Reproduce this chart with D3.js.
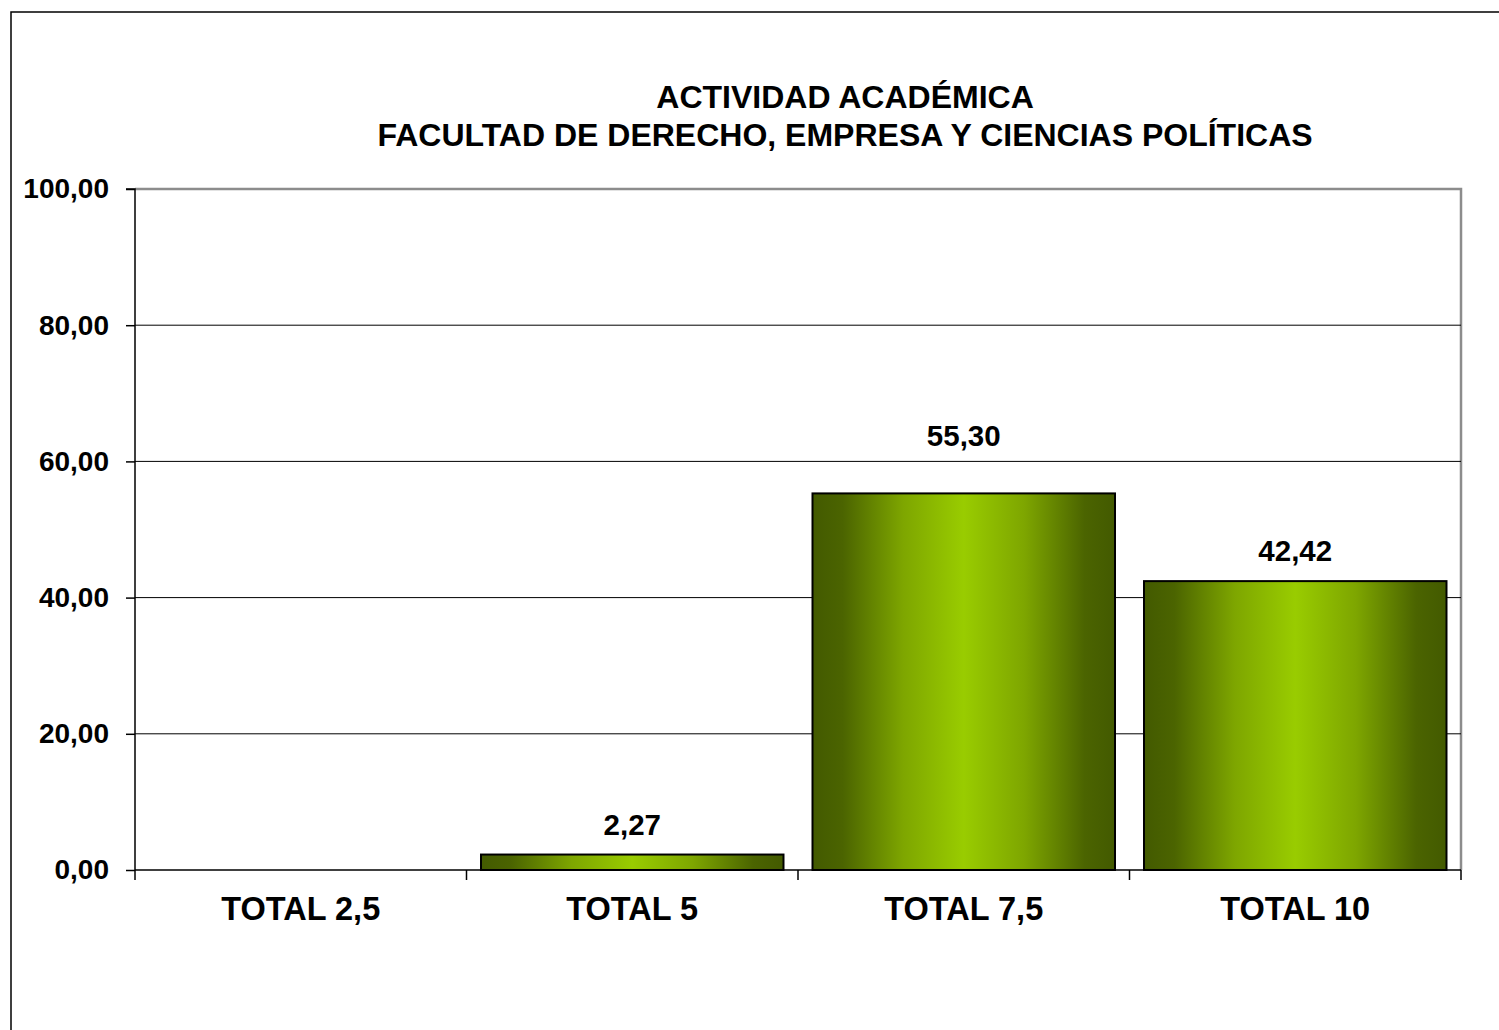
<!DOCTYPE html>
<html><head><meta charset="utf-8">
<script src="https://cdn.jsdelivr.net/npm/d3@7"></script>
<style>body{margin:0;background:#fff}svg{display:block}</style>
</head><body>
<script>
const categories = ["TOTAL 2,5", "TOTAL 5", "TOTAL 7,5", "TOTAL 10"];
const values = [0, 2.27, 55.30, 42.42];
const valueLabels = ["", "2,27", "55,30", "42,42"];
const yTicks = [0, 20, 40, 60, 80, 100];
const titleLines = ["ACTIVIDAD ACADÉMICA", "FACULTAD DE DERECHO, EMPRESA Y CIENCIAS POLÍTICAS"];

const W = 1499, H = 1030;
const m = {left: 135, right: 1461, top: 189, bottom: 870};
const svg = d3.select("body").append("svg").attr("width", W).attr("height", H);
const font = "Arial, 'Liberation Sans', sans-serif";

const defs = svg.append("defs");
const g = defs.append("linearGradient").attr("id", "barGrad").attr("x1", "0").attr("x2", "1").attr("y1", "0").attr("y2", "0");
[[0, "#435a00"], [0.1, "#4b6400"], [0.3, "#7ea600"], [0.5, "#99cc00"], [0.7, "#7ea600"], [0.9, "#4b6400"], [1, "#435a00"]]
  .forEach(([o, c]) => g.append("stop").attr("offset", o).attr("stop-color", c));

// outer border
svg.append("rect").attr("x", 11).attr("y", 12).attr("width", 1600).attr("height", 1100)
  .attr("fill", "none").attr("stroke", "#000").attr("stroke-width", 1.5);

// title
svg.append("text").attr("font-family", font).attr("font-weight", "bold")
  .attr("font-size", 32).attr("text-anchor", "middle").attr("fill", "#000")
  .selectAll("tspan").data(titleLines).join("tspan")
  .attr("x", 845).attr("y", (d, i) => 108 + i * 38).text(d => d);

const x = d3.scaleBand().domain(categories).range([m.left, m.right]).paddingInner(0.0875).paddingOuter(0.04375);
const y = d3.scaleLinear().domain([0, 100]).range([m.bottom, m.top]);

// plot area border (gray top/right)
svg.append("path")
  .attr("d", `M${m.left},${m.top}H${m.right}V${m.bottom}`)
  .attr("fill", "none").attr("stroke", "#8c8c8c").attr("stroke-width", 2.5);

// gridlines
const grid = yTicks.filter(t => t > 0 && t < 100);
svg.append("g").selectAll("line").data(grid).join("line")
  .attr("x1", m.left).attr("x2", m.right).attr("y1", d => y(d)).attr("y2", d => y(d))
  .attr("stroke", "#000").attr("stroke-width", 1);

// bars
svg.append("g").selectAll("rect").data(values.map((v, i) => ({v, c: categories[i]})).filter(d => d.v > 0))
  .join("rect")
  .attr("x", d => x(d.c)).attr("width", x.bandwidth())
  .attr("y", d => y(d.v)).attr("height", d => y(0) - y(d.v))
  .attr("fill", "url(#barGrad)").attr("stroke", "#000").attr("stroke-width", 2);

// value labels: above bar; if label would cross a gridline, move above that gridline
function labelY(v) {
  let base = y(v) - 20;
  const top = base - 24;
  grid.forEach(t => { const gy = y(t); if (gy > top - 2 && gy < base + 4) base = gy - 15; });
  return base;
}
svg.append("g").selectAll("text").data(values.map((v, i) => ({v, c: categories[i], l: valueLabels[i]})).filter(d => d.l))
  .join("text")
  .attr("x", d => x(d.c) + x.bandwidth() / 2).attr("y", d => labelY(d.v))
  .attr("text-anchor", "middle").attr("font-family", font).attr("font-weight", "bold").attr("font-size", 29.5)
  .text(d => d.l);

// y axis
const yAxis = svg.append("g").attr("transform", `translate(${m.left},0)`)
  .call(d3.axisLeft(y).tickValues(yTicks).tickSize(9).tickPadding(17)
    .tickFormat(d => d3.format(".2f")(d).replace(".", ",")));
yAxis.select(".domain").attr("stroke", "#000").attr("stroke-width", 1.5).attr("d", `M-9,${m.top}H0V${m.bottom}`);
yAxis.selectAll(".tick line").attr("stroke", "#000").attr("stroke-width", 1.5);
yAxis.selectAll(".tick text").attr("font-family", font).attr("font-weight", "bold").attr("font-size", 28).attr("fill", "#000");

// x axis
const xAxis = svg.append("g").attr("transform", `translate(0,${m.bottom})`);
xAxis.append("line").attr("x1", m.left).attr("x2", m.right).attr("stroke", "#000").attr("stroke-width", 1.5);
const bounds = categories.map(c => x(c) - x.step() * x.paddingInner() / 2).concat([m.right]);
bounds[0] = m.left;
xAxis.selectAll("line.tk").data(bounds).join("line").attr("class", "tk")
  .attr("x1", d => d).attr("x2", d => d).attr("y1", 0).attr("y2", 10)
  .attr("stroke", "#000").attr("stroke-width", 1.5);
xAxis.selectAll("text").data(categories).join("text")
  .attr("x", d => x(d) + x.bandwidth() / 2).attr("y", 50)
  .attr("text-anchor", "middle").attr("font-family", font).attr("font-weight", "bold").attr("font-size", 32.5)
  .text(d => d);
</script>
</body></html>
